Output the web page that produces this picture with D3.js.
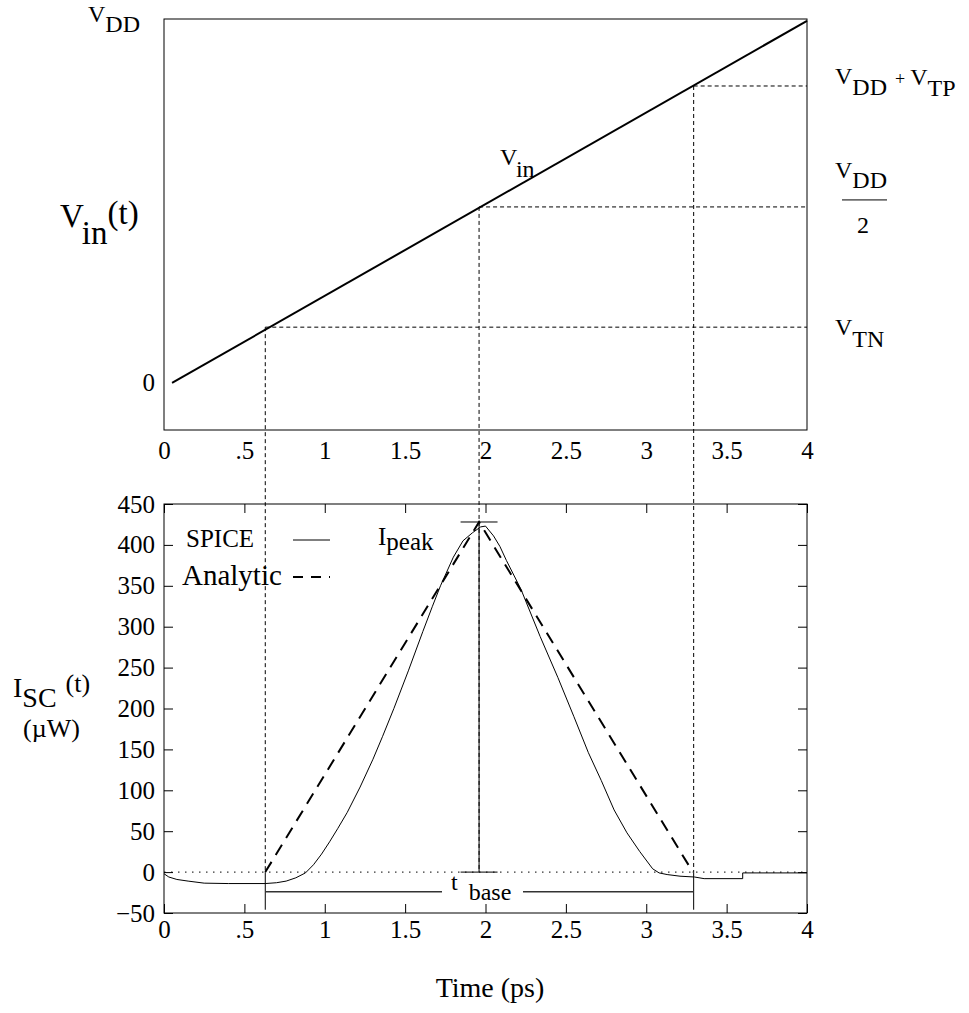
<!DOCTYPE html>
<html>
<head>
<meta charset="utf-8">
<script src="https://cdn.jsdelivr.net/npm/d3@7"></script>
<style>
body { margin: 0; background: #fff; }
text { font-family: "Liberation Serif", "Times New Roman", serif; fill: #000; }
</style>
</head>
<body>
<script>
// ticks
var timeTicks = [0, 0.5, 1, 1.5, 2, 2.5, 3, 3.5, 4];
var iscTicks = [-50, 0, 50, 100, 150, 200, 250, 300, 350, 400, 450];

// Vin(t), normalisé sur VDD
var vinT = [0.05, 4];
var vinV = [0, 1];

// seuils : VTN, VDD/2, VDD+VTP
var thrT = [0.63, 1.96, 3.295];
var thrV = [0.154, 0.486, 0.82];

// courant SPICE
var spiceT = [0, 0.03, 0.08, 0.15, 0.25, 0.4, 0.63, 0.7, 0.76, 0.82, 0.88, 0.93, 0.98, 1.03, 1.08, 1.14, 1.22, 1.3, 1.36, 1.43, 1.52, 1.61, 1.67, 1.72, 1.8, 1.86, 1.92, 1.97, 2.0, 2.05, 2.09, 2.13, 2.22, 2.34, 2.45, 2.55, 2.64, 2.72, 2.8, 2.88, 2.96, 3.04, 3.08, 3.13, 3.21, 3.3, 3.36, 3.6, 3.6, 4];
var spiceV = [-2, -6, -9, -11, -13.5, -14, -14, -13, -11, -7, -1, 9, 22, 37, 53, 73, 104, 138, 166, 200, 246, 294, 325, 350, 385, 405, 415, 422, 423, 411, 398, 381, 346, 288, 238, 190, 146, 112, 76, 48, 25, 4, -1, -3, -5, -6, -8, -8, -1, -1];

// modèle analytique
var anaT = [0.63, 1.96, 3.29];
var anaV = [0, 428, 0];

// repères Ipeak et tbase
var peakT = 1.96, peakV = 428, peakHalf = 0.115;
var baseT = [0.63, 3.295], baseV = -24, baseLow = -46;

var width = 969, height = 1013;

var svg = d3.select("body").append("svg")
    .attr("width", width)
    .attr("height", height);

var x = d3.scaleLinear().domain([0, 4]).range([164, 807]);
var yTop = d3.scaleLinear().domain([-0.13, 1.005]).range([430, 19]);
var yBot = d3.scaleLinear().domain([-50, 450]).range([913, 504]);

var fmt = function(d) { return d === 0 ? "0" : String(d).replace(/^0\./, "."); };

function styleAxis(g, size) {
    g.attr("font-family", null).attr("font-size", null);
    g.select(".domain").remove();
    g.selectAll("line").attr("stroke", "#000");
    g.selectAll("text").style("font-size", size + "px");
}

// ---- graphe du haut
svg.append("rect")
    .attr("x", x(0)).attr("y", yTop(1.005))
    .attr("width", x(4) - x(0)).attr("height", yTop(-0.13) - yTop(1.005))
    .attr("fill", "none").attr("stroke", "#000");

svg.append("g")
    .attr("transform", "translate(0," + yTop(-0.13) + ")")
    .call(d3.axisBottom(x).tickValues(timeTicks).tickSize(0).tickPadding(11).tickFormat(fmt))
    .call(styleAxis, 25);

var vinData = vinT.map(function(t, i) { return {t: t, v: vinV[i]}; });
svg.append("path")
    .datum(vinData)
    .attr("fill", "none").attr("stroke", "#000").attr("stroke-width", 2)
    .attr("d", d3.line().x(function(d) { return x(d.t); }).y(function(d) { return yTop(d.v); }));

// lignes pointillées des seuils
thrT.forEach(function(t, i) {
    svg.append("line")
        .attr("x1", x(t)).attr("x2", x(4))
        .attr("y1", yTop(thrV[i])).attr("y2", yTop(thrV[i]))
        .attr("stroke", "#000").attr("stroke-dasharray", "4,3");
    svg.append("line")
        .attr("x1", x(t)).attr("x2", x(t))
        .attr("y1", yTop(thrV[i])).attr("y2", yBot(0))
        .attr("stroke", "#000").attr("stroke-dasharray", "4,3");
});

// étiquettes du haut
var lab = svg.append("text").attr("x", 88).attr("y", yTop(1) + 1).style("font-size", "24px");
lab.append("tspan").text("V");
lab.append("tspan").attr("dy", 10).text("DD");

svg.append("text").attr("x", 155).attr("y", yTop(0) + 8)
    .attr("text-anchor", "end").style("font-size", "25px").text("0");

var vt = svg.append("text").attr("x", 60).attr("y", 227).style("font-size", "33px");
vt.append("tspan").text("V");
vt.append("tspan").attr("dy", 17).text("in");
vt.append("tspan").attr("dy", -20).text("(t)");

var vi = svg.append("text").attr("x", 500).attr("y", 165).style("font-size", "24px");
vi.append("tspan").text("V");
vi.append("tspan").attr("dy", 12).text("in");

var r1 = svg.append("text").attr("x", 835).attr("y", yTop(thrV[2]) - 2).style("font-size", "24px");
r1.append("tspan").text("V");
r1.append("tspan").attr("dy", 11).text("DD");
r1.append("tspan").attr("dy", -10).attr("dx", 8).style("font-size", "18px").text("+");
r1.append("tspan").attr("dx", 5).text("V");
r1.append("tspan").attr("dy", 11).text("TP");

var r2 = svg.append("text").attr("x", 835).attr("y", yTop(thrV[1]) - 29).style("font-size", "24px");
r2.append("tspan").text("V");
r2.append("tspan").attr("dy", 10).text("DD");
svg.append("line").attr("x1", 842).attr("x2", 887)
    .attr("y1", yTop(thrV[1]) - 7).attr("y2", yTop(thrV[1]) - 7)
    .attr("stroke", "#000");
svg.append("text").attr("x", 863).attr("y", yTop(thrV[1]) + 26)
    .attr("text-anchor", "middle").style("font-size", "24px").text("2");

var r3 = svg.append("text").attr("x", 835).attr("y", yTop(thrV[0]) + 8).style("font-size", "24px");
r3.append("tspan").text("V");
r3.append("tspan").attr("dy", 12).text("TN");

// ---- graphe du bas
svg.append("rect")
    .attr("x", x(0)).attr("y", yBot(450))
    .attr("width", x(4) - x(0)).attr("height", yBot(-50) - yBot(450))
    .attr("fill", "none").attr("stroke", "#000");

svg.append("g")
    .attr("transform", "translate(0," + yBot(-50) + ")")
    .call(d3.axisBottom(x).tickValues(timeTicks).tickSize(-9).tickPadding(7).tickFormat(fmt))
    .call(styleAxis, 25);
svg.append("g")
    .attr("transform", "translate(0," + yBot(450) + ")")
    .call(d3.axisTop(x).tickValues(timeTicks).tickSize(-9).tickFormat(""))
    .call(styleAxis, 25);
svg.append("g")
    .attr("transform", "translate(" + x(0) + ",0)")
    .call(d3.axisLeft(yBot).tickValues(iscTicks).tickSize(-9).tickPadding(9))
    .call(styleAxis, 25);
svg.append("g")
    .attr("transform", "translate(" + x(4) + ",0)")
    .call(d3.axisRight(yBot).tickValues(iscTicks).tickSize(-9).tickFormat(""))
    .call(styleAxis, 25);

// ligne zéro
svg.append("line")
    .attr("x1", x(0)).attr("x2", x(4))
    .attr("y1", yBot(0)).attr("y2", yBot(0))
    .attr("stroke", "#000").attr("stroke-dasharray", "1.5,5.5");

var line = d3.line().x(function(d) { return x(d.t); }).y(function(d) { return yBot(d.v); });

var spiceData = spiceT.map(function(t, i) { return {t: t, v: spiceV[i]}; });
svg.append("path").datum(spiceData)
    .attr("fill", "none").attr("stroke", "#000").attr("stroke-width", 1)
    .attr("d", line);

var anaData = anaT.map(function(t, i) { return {t: t, v: anaV[i]}; });
svg.append("path").datum(anaData)
    .attr("fill", "none").attr("stroke", "#000").attr("stroke-width", 2)
    .attr("stroke-dasharray", "12,8")
    .attr("d", line);

// Ipeak
svg.append("line").attr("x1", x(peakT)).attr("x2", x(peakT))
    .attr("y1", yBot(peakV)).attr("y2", yBot(0)).attr("stroke", "#000");
[peakV, 0].forEach(function(v) {
    svg.append("line").attr("x1", x(peakT - peakHalf)).attr("x2", x(peakT + peakHalf))
        .attr("y1", yBot(v)).attr("y2", yBot(v)).attr("stroke", "#000");
});
var ip = svg.append("text").attr("x", 378).attr("y", 545).style("font-size", "25px");
ip.append("tspan").text("I");
ip.append("tspan").attr("dy", 5).text("peak");

// tbase
baseT.forEach(function(t) {
    svg.append("line").attr("x1", x(t)).attr("x2", x(t))
        .attr("y1", yBot(0)).attr("y2", yBot(baseLow)).attr("stroke", "#000");
});
svg.append("line").attr("x1", x(baseT[0])).attr("x2", 442)
    .attr("y1", yBot(baseV)).attr("y2", yBot(baseV)).attr("stroke", "#333").attr("stroke-width", 1.3);
svg.append("line").attr("x1", 523).attr("x2", x(baseT[1]))
    .attr("y1", yBot(baseV)).attr("y2", yBot(baseV)).attr("stroke", "#333").attr("stroke-width", 1.3);
var tb = svg.append("text").attr("x", 451).attr("y", 890).style("font-size", "24px");
tb.append("tspan").text("t");
tb.append("tspan").attr("dx", 11).attr("dy", 10).text("base");

// légende
svg.append("text").attr("x", 186).attr("y", 547).style("font-size", "25px").text("SPICE");
svg.append("line").attr("x1", 293).attr("x2", 330).attr("y1", 540).attr("y2", 540)
    .attr("stroke", "#000");
svg.append("text").attr("x", 182).attr("y", 585).style("font-size", "29px").text("Analytic");
svg.append("line").attr("x1", 293).attr("x2", 330).attr("y1", 577).attr("y2", 577)
    .attr("stroke", "#000").attr("stroke-width", 2).attr("stroke-dasharray", "10,8");

// titres des axes
var ia = svg.append("text").attr("x", 13).attr("y", 697).style("font-size", "28px");
ia.append("tspan").text("I");
ia.append("tspan").attr("dy", 10).text("SC");
ia.append("tspan").attr("dx", 9).attr("dy", -15).style("font-size", "26px").text("(t)");
svg.append("text").attr("x", 23).attr("y", 737).style("font-size", "26px").text("(\u00b5W)");

svg.append("text").attr("x", 490).attr("y", 997).attr("text-anchor", "middle")
    .style("font-size", "28px").text("Time (ps)");
</script>
</body>
</html>
